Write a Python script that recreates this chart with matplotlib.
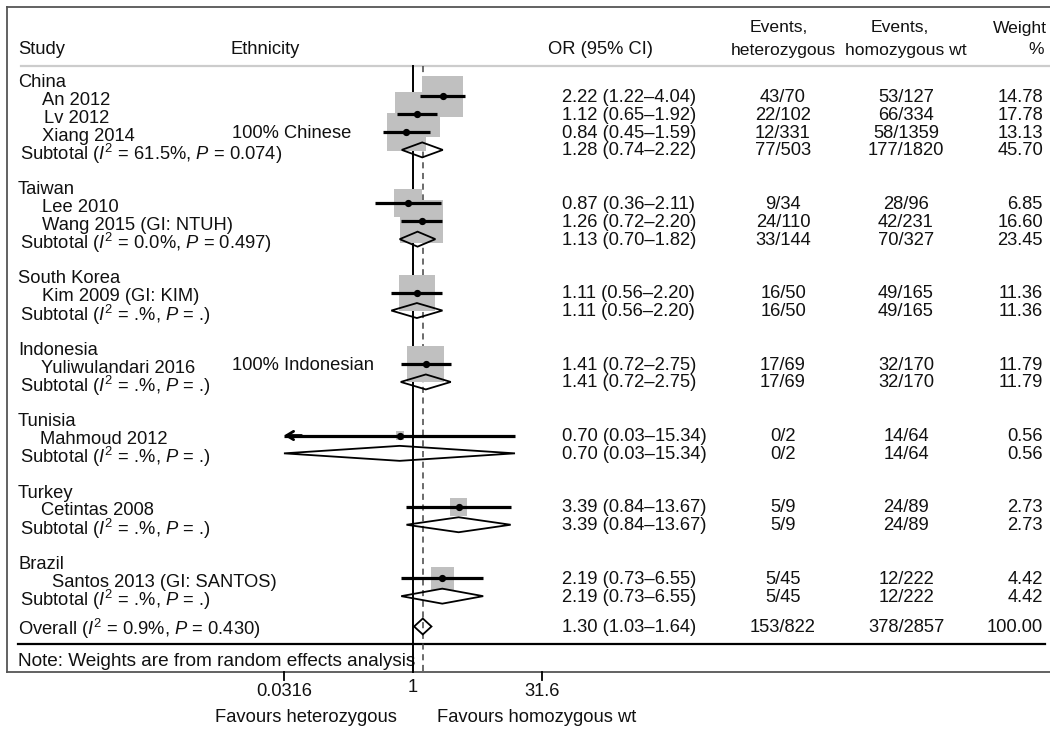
import matplotlib
matplotlib.use("Agg")
import matplotlib.pyplot as plt
from matplotlib.patches import Polygon

# ---------------- data ----------------
groups = ["China", "Taiwan", "South Korea", "Indonesia", "Tunisia", "Turkey", "Brazil"]
studies = ["An 2012", "Lv 2012", "Xiang 2014", "Lee 2010", "Wang 2015 (GI: NTUH)",
           "Kim 2009 (GI: KIM)", "Yuliwulandari 2016", "Mahmoud 2012", "Cetintas 2008",
           "Santos 2013 (GI: SANTOS)"]
study_group = [0, 0, 0, 1, 1, 2, 3, 4, 5, 6]
ethnicity = ["", "", "100% Chinese", "", "", "", "100% Indonesian", "", "", ""]
study_or = [2.22, 1.12, 0.84, 0.87, 1.26, 1.11, 1.41, 0.70, 3.39, 2.19]
study_lo = [1.22, 0.65, 0.45, 0.36, 0.72, 0.56, 0.72, 0.03, 0.84, 0.73]
study_hi = [4.04, 1.92, 1.59, 2.11, 2.20, 2.20, 2.75, 15.34, 13.67, 6.55]
het_events = ["43/70", "22/102", "12/331", "9/34", "24/110", "16/50", "17/69", "0/2", "5/9", "5/45"]
hom_events = ["53/127", "66/334", "58/1359", "28/96", "42/231", "49/165", "32/170", "14/64", "24/89", "12/222"]
study_weight = [14.78, 17.78, 13.13, 6.85, 16.60, 11.36, 11.79, 0.56, 2.73, 4.42]

sub_i2 = ["61.5%", "0.0%", ".%", ".%", ".%", ".%", ".%"]
sub_p = ["0.074", "0.497", ".", ".", ".", ".", "."]
sub_or = [1.28, 1.13, 1.11, 1.41, 0.70, 3.39, 2.19]
sub_lo = [0.74, 0.70, 0.56, 0.72, 0.03, 0.84, 0.73]
sub_hi = [2.22, 1.82, 2.20, 2.75, 15.34, 13.67, 6.55]
sub_het = ["77/503", "33/144", "16/50", "17/69", "0/2", "5/9", "5/45"]
sub_hom = ["177/1820", "70/327", "49/165", "32/170", "14/64", "24/89", "12/222"]
sub_weight = [45.70, 23.45, 11.36, 11.79, 0.56, 2.73, 4.42]

overall_or, overall_lo, overall_hi = 1.30, 1.03, 1.64
overall_i2, overall_p = "0.9%", "0.430"
overall_het, overall_hom, overall_weight = "153/822", "378/2857", 100.00

tick_values = [0.0316, 1, 31.6]
tick_labels = ["0.0316", "1", "31.6"]

# ---------------- style / layout ----------------
plt.rcParams["font.family"] = ["Liberation Sans", "DejaVu Sans"]
plt.rcParams["mathtext.fontset"] = "custom"
plt.rcParams["mathtext.rm"] = "Liberation Sans"
plt.rcParams["mathtext.it"] = "Liberation Sans:italic"
FS = 13.2
FS_HDR = 12.6
TXT = "#111111"
BOXC = "#c0c0c0"

W, H = 1050, 730
fig = plt.figure(figsize=(W / 100, H / 100), dpi=100)

# table / frame axes in pixel coordinates
tab = fig.add_axes([0, 0, 1, 1])
tab.set_xlim(0, W)
tab.set_ylim(H, 0)
tab.axis("off")

# forest axes: log scale, 86 px per decade, null line at x=413 px
PX_NULL, PX_DEC = 413, 86.0
ax = fig.add_axes([0, 0, 1, 1])
ax.set_xscale("log")
ax.set_xlim(10 ** (-PX_NULL / PX_DEC), 10 ** ((W - PX_NULL) / PX_DEC))
ax.set_ylim(H, 0)
ax.axis("off")
ax.patch.set_alpha(0)

Y0, STEP = 78.5, 17.85
TOP_LINE, HDR_LINE, AX_LINE = 7, 66, 672
XMIN, XMAX = tick_values[0], tick_values[-1]

X_GROUP, X_SUB = 18, 20
study_indent = [42, 44, 42, 42, 42, 42, 41, 40, 41, 52]
X_ETH, X_OR, X_HET, X_HOM, X_WT = 232, 562, 783, 906, 1043
DY_LEFT, DY_RIGHT = 4, 1


def right_cols(y, orv, lo, hi, het, hom, wt):
    tab.text(X_OR, y + DY_RIGHT, f"{orv:.2f} ({lo:.2f}\u2013{hi:.2f})", fontsize=FS,
             ha="left", va="center", color=TXT)
    tab.text(X_HET, y + DY_RIGHT, het, fontsize=FS, ha="center", va="center", color=TXT)
    tab.text(X_HOM, y + DY_RIGHT, hom, fontsize=FS, ha="center", va="center", color=TXT)
    tab.text(X_WT, y + DY_RIGHT, f"{wt:.2f}", fontsize=FS, ha="right", va="center", color=TXT)


def diamond(y, orv, lo, hi, h=7.5):
    lo_c, hi_c = max(lo, XMIN), min(hi, XMAX)
    pts = [(lo_c, y), (orv, y - h), (hi_c, y), (orv, y + h)]
    ax.add_patch(Polygon(pts, closed=True, facecolor="white", edgecolor="none", zorder=1.5))
    ax.add_patch(Polygon(pts, closed=True, facecolor="none", edgecolor="black",
                         lw=1.3, zorder=3, joinstyle="miter"))


# header
tab.text(X_GROUP, 50, "Study", fontsize=FS, ha="left", va="center", color=TXT)
tab.text(X_ETH - 2, 50, "Ethnicity", fontsize=FS, ha="left", va="center", color=TXT)
tab.text(X_OR - 14, 50, "OR (95% CI)", fontsize=FS, ha="left", va="center", color=TXT)
tab.text(X_HET - 4, 28, "Events,", fontsize=FS_HDR, ha="center", va="center", color=TXT)
tab.text(X_HET, 50, "heterozygous", fontsize=FS_HDR, ha="center", va="center", color=TXT)
tab.text(X_HOM - 6, 28, "Events,", fontsize=FS_HDR, ha="center", va="center", color=TXT)
tab.text(X_HOM, 50, "homozygous wt", fontsize=FS_HDR, ha="center", va="center", color=TXT)
tab.text(X_WT + 4, 28, "Weight", fontsize=FS_HDR, ha="right", va="center", color=TXT)
tab.text(X_WT + 1, 50, "%", fontsize=FS_HDR, ha="right", va="center", color=TXT)

# rows
row = 0
y_sub = Y0
for g, gname in enumerate(groups):
    y = Y0 + STEP * row
    tab.text(X_GROUP, y + DY_LEFT, gname, fontsize=FS, ha="left", va="center", color=TXT)
    row += 1
    for i in [k for k, sg in enumerate(study_group) if sg == g]:
        y = Y0 + STEP * row
        tab.text(study_indent[i], y + DY_LEFT, studies[i], fontsize=FS, ha="left",
                 va="center", color=TXT)
        if ethnicity[i]:
            tab.text(X_ETH, y + DY_LEFT - 3, ethnicity[i], fontsize=FS, ha="left",
                     va="center", color=TXT)
        side_pt = 10.7 * study_weight[i] ** 0.5 * 0.72
        ax.scatter([study_or[i]], [y], marker="s", s=side_pt ** 2, color=BOXC,
                   edgecolors="none", zorder=2)
        lo_c = max(study_lo[i], XMIN)
        hi_c = min(study_hi[i], XMAX)
        ax.plot([lo_c, hi_c], [y, y], color="black", lw=2.3, zorder=4,
                solid_capstyle="butt")
        if study_lo[i] < XMIN:
            ax.annotate("", xy=(XMIN, y), xytext=(XMIN * 1.6, y),
                        arrowprops=dict(arrowstyle="->,head_length=0.5,head_width=0.3",
                                        lw=2.0, color="black", shrinkA=0, shrinkB=0),
                        zorder=4)
        ax.plot([study_or[i]], [y], marker="o", ms=4.2, color="black", zorder=5)
        right_cols(y, study_or[i], study_lo[i], study_hi[i], het_events[i], hom_events[i],
                   study_weight[i])
        row += 1
    y_sub = Y0 + STEP * row
    tab.text(X_SUB, y_sub + DY_LEFT,
             rf"Subtotal ($\mathit{{I}}^2$ = {sub_i2[g]}, $\mathit{{P}}$ = {sub_p[g]})",
             fontsize=FS, ha="left", va="center", color=TXT)
    diamond(y_sub, sub_or[g], sub_lo[g], sub_hi[g])
    right_cols(y_sub, sub_or[g], sub_lo[g], sub_hi[g], sub_het[g], sub_hom[g], sub_weight[g])
    row += 2

# overall
y_over = y_sub + 1.7 * STEP
tab.text(X_GROUP, y_over + 2,
         rf"Overall ($\mathit{{I}}^2$ = {overall_i2}, $\mathit{{P}}$ = {overall_p})",
         fontsize=FS, ha="left", va="center", color=TXT)
diamond(y_over, overall_or, overall_lo, overall_hi, h=8)
right_cols(y_over, overall_or, overall_lo, overall_hi, overall_het, overall_hom, overall_weight)

# reference lines
ax.plot([1, 1], [HDR_LINE, AX_LINE], color="black", lw=1.4, zorder=1.7)
ax.plot([overall_or, overall_or], [HDR_LINE, AX_LINE], color="#444444", lw=1.1,
        ls=(0, (4, 3)), zorder=1.7)

# frame lines
tab.plot([7, W], [TOP_LINE, TOP_LINE], color="#555555", lw=1.3)
tab.plot([7, 7], [TOP_LINE, AX_LINE], color="#555555", lw=1.3)
tab.plot([7, W], [AX_LINE, AX_LINE], color="#555555", lw=1.3)
tab.plot([21, W], [HDR_LINE, HDR_LINE], color="#cccccc", lw=1.6)
tab.plot([18, 1045], [644, 644], color="black", lw=1.6)
tab.text(X_GROUP, 662, "Note: Weights are from random effects analysis", fontsize=13.7,
         ha="left", va="center", color=TXT)

# x ticks
for t, lab in zip(tick_values, tick_labels):
    if t != 1:
        ax.plot([t, t], [AX_LINE, AX_LINE + 8], color="black", lw=1.3)
    ax.text(t, 692 if t != 1 else 688, lab, fontsize=FS, ha="center", va="center", color=TXT)

tab.text(397, 717, "Favours heterozygous", fontsize=FS, ha="right", va="center", color=TXT)
tab.text(437, 717, "Favours homozygous wt", fontsize=FS, ha="left", va="center", color=TXT)

fig.savefig("out.png", dpi=100)
